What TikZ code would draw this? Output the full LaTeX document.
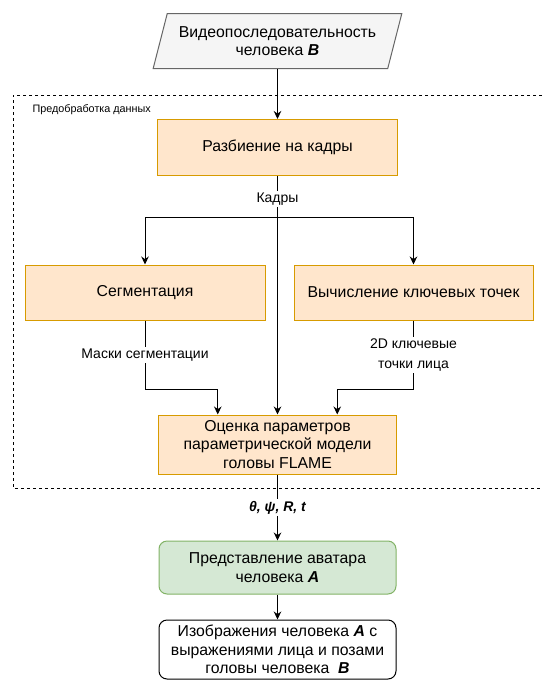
\documentclass[tikz,border=0pt]{standalone}
\usepackage{fontspec}
\setmainfont{Liberation Sans}
\usetikzlibrary{shapes.geometric,arrows.meta,calc}

\begin{document}
\begin{tikzpicture}[x=1pt,y=-1pt,line width=1pt,
  box/.style={draw=orstroke,fill=orfill,minimum width=240pt,minimum height=56pt,inner sep=0pt,align=center,font=\fontsize{15.8}{18.7}\selectfont},
  lbl/.style={fill=white,inner sep=1.5pt,align=center,font=\fontsize{14}{19.5}\selectfont},
  arr/.style={-{Stealth[length=8pt,width=7.5pt]}},
  frame/.style={dash pattern=on 3pt off 3pt}]
\definecolor{orfill}{HTML}{FFE6CC}
\definecolor{orstroke}{HTML}{D79B00}
\definecolor{grnfill}{HTML}{D5E8D4}
\definecolor{grnstroke}{HTML}{82B366}
\definecolor{greyfill}{HTML}{F5F5F5}
\definecolor{greystroke}{HTML}{666666}
\useasboundingbox (0,0) rectangle (542,681);

\draw[frame] (542,95) -- (13,95) -- (13,488) -- (542,488);
\node[anchor=west,inner sep=0pt,font=\fontsize{10.8}{12}\selectfont] (prep) at (32,110) {Предобработка данных};

\node[trapezium,trapezium left angle=67,trapezium right angle=113,trapezium stretches=true,
  draw=greystroke,fill=greyfill,minimum width=249pt,minimum height=55pt,inner sep=0pt,
  align=center,font=\fontsize{15.8}{18.7}\selectfont] (video) at (277.5,41)
  {Видеопоследовательность\\человека \textbf{\textit{B}}};
\node[box] (frames) at (277.5,147.5) {Разбиение на кадры};
\node[box,minimum height=55pt] (seg) at (145,292.5) {Сегментация};
\node[box,minimum height=55pt,minimum width=239pt] (kpts) at (413.5,292.5) {Вычисление ключевых точек};
\node[box,minimum width=238pt,minimum height=59pt] (flame) at (277.5,444.5)
  {Оценка параметров\\параметрической модели\\головы FLAME};
\node[box,draw=grnstroke,fill=grnfill,rounded corners=8pt,minimum width=237pt,minimum height=53pt] (avatar) at (277.5,567.5)
  {Представление аватара\\человека \textbf{\textit{A}}};
\node[box,draw=black,fill=white,rounded corners=8pt,minimum width=237pt,minimum height=59pt] (result) at (277.5,649.5)
  {Изображения человека \textbf{\textit{A}} с\\выражениями лица и позами\\головы человека \ \textbf{\textit{B}}};

\coordinate (split) at (frames.south |- 0,217);
\draw[arr] (video) -- (frames);
\draw[arr] (frames.south) -- node[lbl,pos=0.096] (kadry) {Кадры} (flame.north);
\draw[arr] (split) -| (seg.north);
\draw[arr] (split) -| (kpts.north);
\draw[arr] (seg.south) -- node[lbl] (masks) {Маски сегментации} ++(0,69)
  -| ($(flame.north west)!0.25!(flame.north east)$);
\draw[arr] (kpts.south) -- node[lbl] (lmk) {2D ключевые\\точки лица} ++(0,69)
  -| ($(flame.north west)!0.75!(flame.north east)$);
\draw[arr] (flame) -- node[lbl,font=\fontsize{14}{16}\selectfont\bfseries\itshape] (params) {θ, ψ, R, t} (avatar);
\draw[arr] (avatar) -- (result);
\end{tikzpicture}
\end{document}
